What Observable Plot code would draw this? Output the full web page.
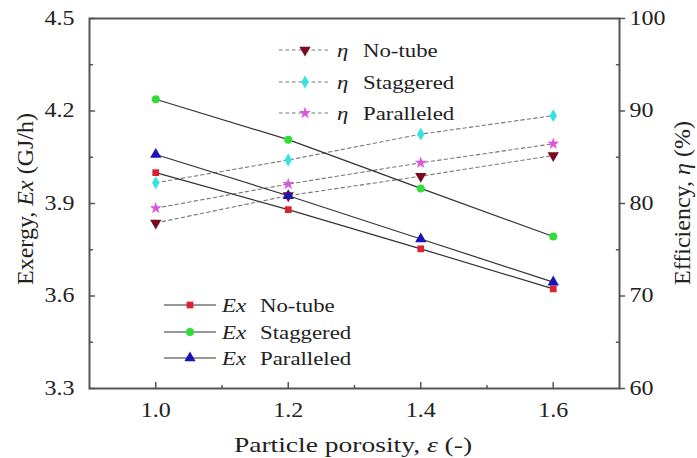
<!DOCTYPE html>
<html><head><meta charset="utf-8">
<script src="https://cdn.jsdelivr.net/npm/d3@7"></script>
<script src="https://cdn.jsdelivr.net/npm/@observablehq/plot@0.6"></script>
<style>
html,body{margin:0;padding:0;background:#fff;}
#wrap{position:relative;width:697px;height:458px;overflow:hidden;font-family:'Liberation Serif';color:#222;}
#wrap svg{display:block;}
.t{position:absolute;white-space:nowrap;font-family:'Liberation Serif';line-height:1;}
.lt{position:absolute;white-space:nowrap;font-family:'Liberation Serif';font-size:19px;line-height:1;transform-origin:left center;transform:translate(0,-50%) scaleX(1.2);}
.ls{position:absolute;}
</style></head><body><div id="wrap"></div>
<script>
// ---- data ----
const porosity = [1.0, 1.2, 1.4, 1.6];
const exNoTube = [4.000, 3.880, 3.753, 3.623];
const exStaggered = [4.238, 4.107, 3.949, 3.793];
const exParalleled = [4.059, 3.925, 3.785, 3.645];
const etaNoTube = [77.9, 80.85, 82.95, 85.2];
const etaStaggered = [82.24, 84.7, 87.5, 89.5];
const etaParalleled = [79.5, 82.1, 84.4, 86.45];
const seriesNames = ["No-tube", "Staggered", "Paralleled"];
const xTicks = [1.0, 1.2, 1.4, 1.6];
const xMinor = [1.1, 1.3, 1.5];
const exTicks = [3.3, 3.6, 3.9, 4.2, 4.5];
const exMinor = [3.45, 3.75, 4.05, 4.35];
const etaTicks = [60, 70, 80, 90, 100];
const etaMinor = [65, 75, 85, 95];
const exDomain = [3.3, 4.5];
const etaDomain = [60, 100];
const xDomain = [0.9, 1.7];

// ---- styles ----
const exStyle = {
  "No-tube": {color: "#dd2233", symbol: "square", rotate: 0, r: 3.8},
  "Staggered": {color: "#33dd33", symbol: "circle", rotate: 0, r: 4.0},
  "Paralleled": {color: "#1a14b8", symbol: "triangle", rotate: 0, r: 4.2}
};
const etaStyle = {
  "No-tube": {color: "#7a0a22", symbol: "triangle", rotate: 180, r: 4.2},
  "Staggered": {color: "#33e3e3", symbol: "diamond", rotate: 0, r: 3.9},
  "Paralleled": {color: "#dd55dd", symbol: "star", rotate: 0, r: 3.8}
};

const etaToEx = v => exDomain[0] + (v - etaDomain[0]) * (exDomain[1] - exDomain[0]) / (etaDomain[1] - etaDomain[0]);
const exToEta = v => etaDomain[0] + (v - exDomain[0]) * (etaDomain[1] - etaDomain[0]) / (exDomain[1] - exDomain[0]);

const exRows = [];
[exNoTube, exStaggered, exParalleled].forEach((arr, k) =>
  arr.forEach((v, i) => exRows.push({series: seriesNames[k], x: porosity[i], ex: v})));
const etaRows = [];
[etaNoTube, etaStaggered, etaParalleled].forEach((arr, k) =>
  arr.forEach((v, i) => etaRows.push({series: seriesNames[k], x: porosity[i], eta: v})));

const tickColor = "#555";
const fam = "Liberation Serif";
const font = {fontSize: 20, fill: "#222", fontFamily: fam};

const plot = Plot.plot({
  width: 697, height: 458,
  marginLeft: 89, marginRight: 78, marginTop: 18, marginBottom: 70,
  style: {fontFamily: fam, background: "#fff", overflow: "visible"},
  x: {domain: xDomain},
  y: {domain: exDomain},
  marks: [
    Plot.vector(xTicks, {x: d => d, frameAnchor: "bottom", rotate: 0, length: 6, anchor: "start", r: 0, stroke: tickColor, strokeWidth: 1.5}),
    Plot.vector(xMinor, {x: d => d, frameAnchor: "bottom", rotate: 0, length: 3, anchor: "start", r: 0, stroke: tickColor, strokeWidth: 1.5}),
    Plot.vector(exTicks, {y: d => d, frameAnchor: "left", rotate: 90, length: 5, anchor: "start", r: 0, stroke: tickColor, strokeWidth: 1.5}),
    Plot.vector(exMinor, {y: d => d, frameAnchor: "left", rotate: 90, length: 3, anchor: "start", r: 0, stroke: tickColor, strokeWidth: 1.5}),
    Plot.vector(etaTicks, {y: d => etaToEx(d), frameAnchor: "right", rotate: 90, length: 5, anchor: "start", r: 0, stroke: tickColor, strokeWidth: 1.5}),
    Plot.vector(etaMinor, {y: d => etaToEx(d), frameAnchor: "right", rotate: 270, length: 3, anchor: "start", r: 0, stroke: tickColor, strokeWidth: 1.5}),
    Plot.axisX(xTicks, {anchor: "bottom", tickSize: 0, tickPadding: 14, tickFormat: d => d.toFixed(1), label: null, ...font}),
    Plot.axisY(exTicks, {anchor: "left", tickSize: 0, tickPadding: 15, tickFormat: d => d.toFixed(1), label: null, ...font}),
    Plot.axisY(etaTicks.map(etaToEx), {anchor: "right", tickSize: 0, tickPadding: 10, tickFormat: d => String(Math.round(exToEta(d))), label: null, ...font}),
    Plot.line(etaRows, {x: "x", y: d => etaToEx(d.eta), z: "series", stroke: "#777", strokeWidth: 1.1, strokeDasharray: "3.5,3"}),
    Plot.line(exRows, {x: "x", y: "ex", z: "series", stroke: "#333", strokeWidth: 1.2}),
    ...seriesNames.map(s => Plot.dot(etaRows.filter(d => d.series === s), {
      x: "x", y: d => etaToEx(d.eta), symbol: etaStyle[s].symbol, rotate: etaStyle[s].rotate,
      r: etaStyle[s].r, fill: etaStyle[s].color, stroke: "none"})),
    ...seriesNames.map(s => Plot.dot(exRows.filter(d => d.series === s), {
      x: "x", y: "ex", symbol: exStyle[s].symbol, rotate: exStyle[s].rotate,
      r: exStyle[s].r, fill: exStyle[s].color, stroke: "none"})),
    Plot.frame({stroke: "#555", strokeWidth: 2})
  ]
});
// widen tick label glyphs horizontally like the reference (keep each label's own translate)
d3.select(plot).selectAll("text").each(function () {
  const g = this.closest("[text-anchor]");
  const a = g ? g.getAttribute("text-anchor") : "middle";
  const origin = a === "end" ? "right center" : a === "start" ? "left center" : "center";
  const tr = this.getAttribute("transform") || "";
  const m = tr.match(/translate\(\s*([-\d.e]+)[ ,]+([-\d.e]+)\s*\)/);
  const tx = m ? +m[1] : 0, ty = m ? +m[2] : 0;
  this.style.transformBox = "fill-box";
  this.style.transformOrigin = origin;
  this.style.transform = `translate(${tx}px, ${ty}px) scaleX(1.2)`;
});
const wrap = document.getElementById("wrap");
wrap.appendChild(plot);

function addDiv(html, cls, css) {
  const d = document.createElement("div");
  d.className = cls; d.innerHTML = html;
  Object.assign(d.style, css);
  wrap.appendChild(d);
  return d;
}
addDiv("Exergy, <i>Ex</i> (GJ/h)", "t", {fontSize: "24px", left: "25px", top: "199px", transform: "translate(-50%,-50%) rotate(-90deg)"});
addDiv("Efficiency, <i>η</i> (%)", "t", {fontSize: "24px", left: "682px", top: "203px", transform: "translate(-50%,-50%) rotate(-90deg)"});
addDiv("Particle porosity, <i>ε</i> (-)", "t", {fontSize: "22px", left: "353px", top: "445px", transform: "translate(-50%,-50%) scaleX(1.25)"});

function symbolSvg(style, dashed) {
  const w = 52, h = 16;
  const sym = {square: d3.symbolSquare, circle: d3.symbolCircle, triangle: d3.symbolTriangle, diamond: d3.symbolDiamond, star: d3.symbolStar}[style.symbol];
  const size = Math.PI * style.r * style.r;
  const path = d3.symbol(sym, size)();
  return `<svg width="${w}" height="${h}" style="display:block"><line x1="0" x2="${w}" y1="${h/2}" y2="${h/2}" stroke="${dashed ? "#777" : "#333"}" stroke-width="1.2" ${dashed ? 'stroke-dasharray="3.5,3"' : ""}/>` +
    `<path d="${path}" transform="translate(${w/2},${h/2}) rotate(${style.rotate})" fill="${style.color}"/></svg>`;
}
const etaLegY = [50, 82, 113];
seriesNames.forEach((s, i) => {
  addDiv(symbolSvg(etaStyle[s], true), "ls", {left: "279px", top: (etaLegY[i] - 8) + "px"});
  addDiv("<i>η</i>", "lt", {left: "337px", top: etaLegY[i] + "px"});
  addDiv(s, "lt", {left: "363px", top: etaLegY[i] + "px"});
});
const exLegY = [305, 332, 358];
seriesNames.forEach((s, i) => {
  addDiv(symbolSvg(exStyle[s], false), "ls", {left: "164px", top: (exLegY[i] - 8) + "px"});
  addDiv("<i>Ex</i>", "lt", {left: "222px", top: exLegY[i] + "px"});
  addDiv(s, "lt", {left: "260px", top: exLegY[i] + "px"});
});
</script></body></html>
